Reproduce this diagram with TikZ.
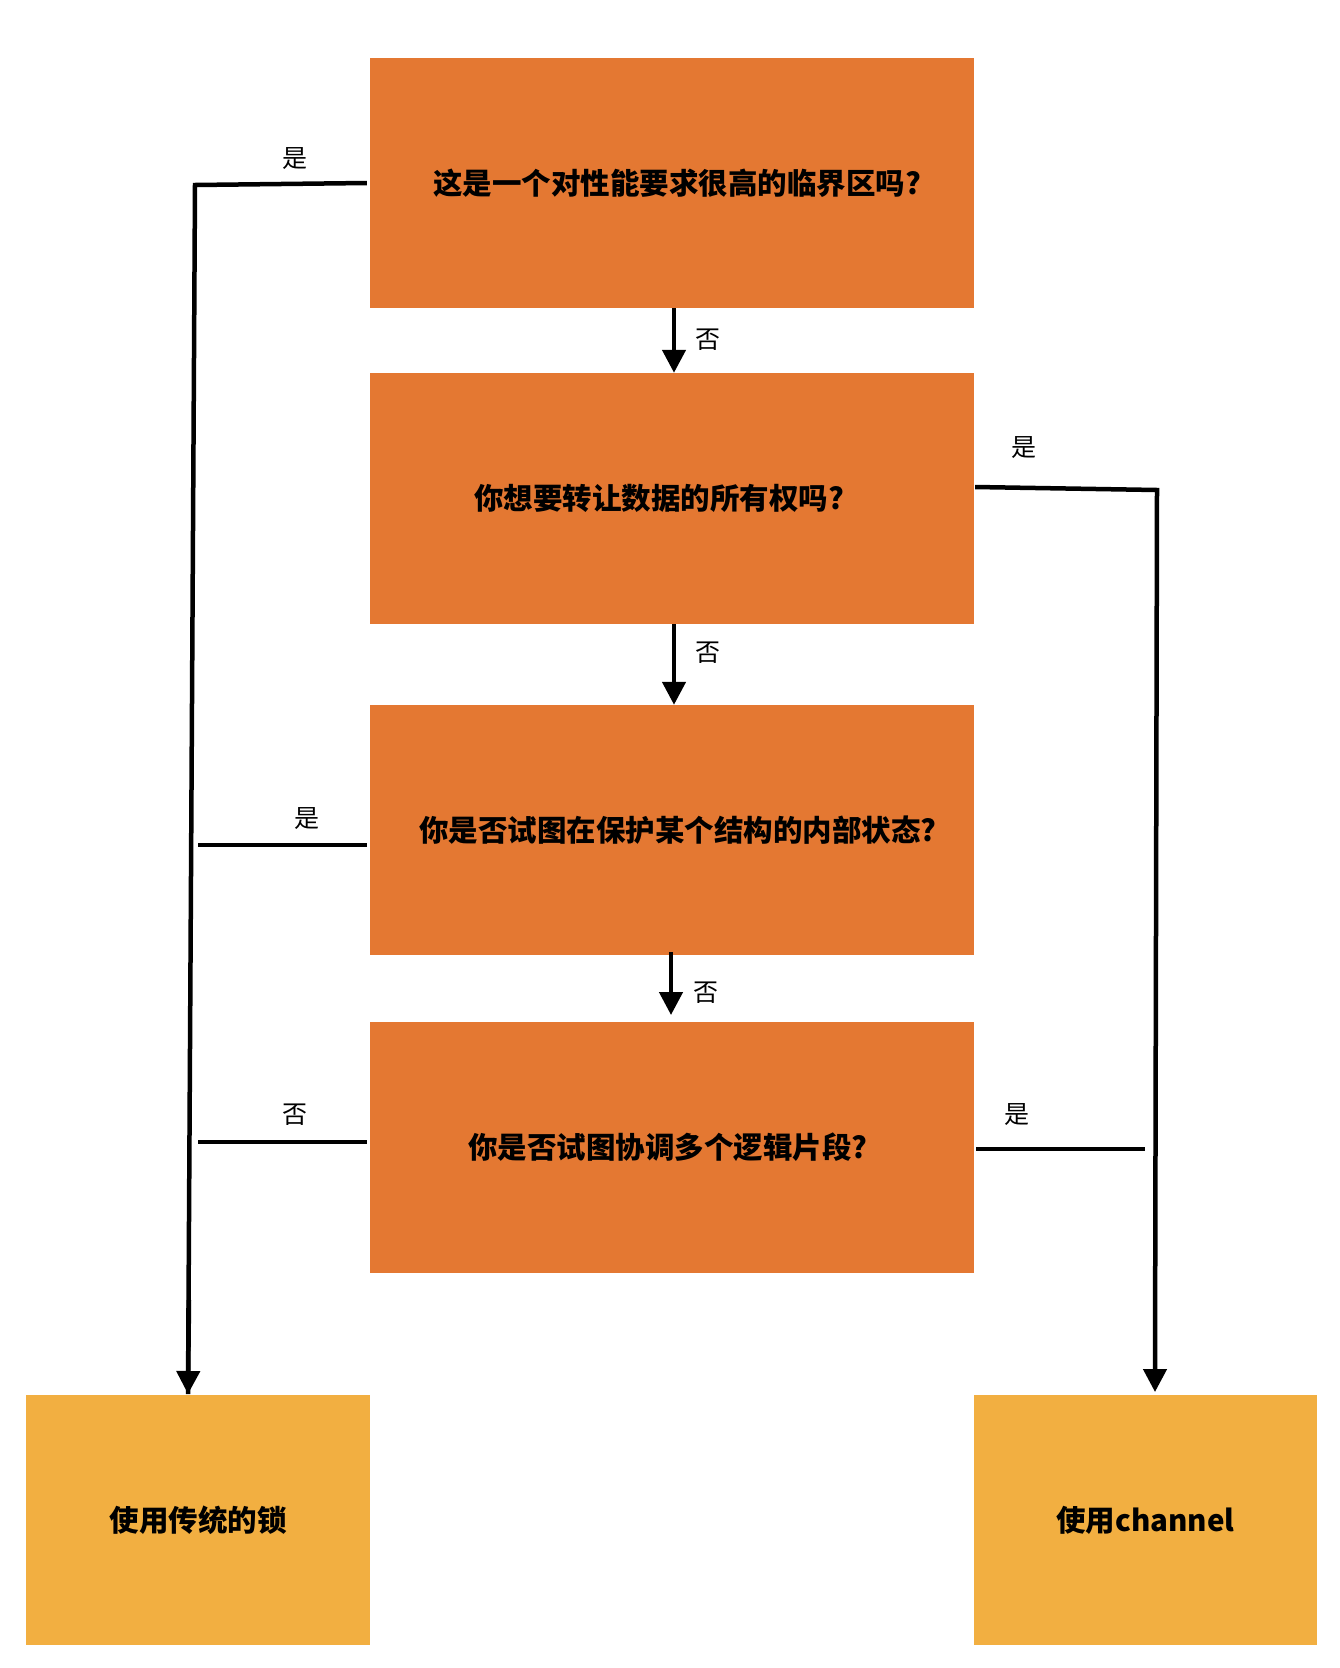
\documentclass[tikz,border=0pt]{standalone}
\usepackage{fontspec}
\setmainfont{Noto Sans CJK SC}
\usetikzlibrary{arrows.meta}
\definecolor{qorange}{HTML}{E47832}
\definecolor{ayellow}{HTML}{F2AF41}
\tikzset{
  qbox/.style={fill=qorange, draw=none, minimum width=604pt, minimum height=250pt, inner sep=0pt, font=\fontsize{29.5}{34}\selectfont\bfseries},
  abox/.style={fill=ayellow, draw=none, minimum width=344pt, minimum height=250pt, inner sep=0pt, font=\fontsize{29.5}{34}\selectfont\bfseries},
  conn/.style={line width=4.5pt, black},
  arr/.style={conn, -{Triangle[width=23pt,length=23pt]}},
  lbl/.style={font=\fontsize{25}{30}\selectfont, inner sep=0pt}
}
\begin{document}
\begin{tikzpicture}[x=1pt,y=-1pt]
\useasboundingbox (0,0) rectangle (1340,1668);
\fill[white] (0,0) rectangle (1340,1668);
\node[qbox] (q1) at (672,183) {\hspace*{10pt}这是一个对性能要求很高的临界区吗?};
\node[qbox, minimum height=251pt] (q2) at (672,498.5) {\hspace*{-26pt}你想要转让数据的所有权吗?};
\node[qbox] (q3) at (672,830) {\hspace*{12pt}你是否试图在保护某个结构的内部状态?};
\node[qbox, minimum height=251pt] (q4) at (672,1147.5) {\hspace*{-8pt}你是否试图协调多个逻辑片段?};
\node[abox] (lock) at (198,1520) {使用传统的锁};
\node[abox, minimum width=343pt] (chan) at (1145.5,1520) {使用channel};
% corner coordinates
\coordinate (lt) at (195,185);
\coordinate (lb) at (188,1394);
\coordinate (rt) at (1157,490);
\coordinate (rb) at (1155,1392);
\coordinate (s3) at (198,845);
\coordinate (s4) at (198,1142);
\coordinate (s4r) at (1145,1149);
% down arrows
\draw[arr] (674,308) -- (q2.north -| 674,0);
\draw[arr] (674,624) -- (q3.north -| 674,0);
\draw[arr] (671,952) -- (671,1015);
% left trunk
\draw[conn] (q1.west |- 0,183) ++(-3,0) -- (lt) -- (lb);
\draw[arr] (189,1300) -- (lb);
% right trunk
\draw[conn] (q2.east |- 0,487) ++(1,0) -- (rt) -- (1155,1370);
\draw[arr] (1155,1300) -- (rb);
% stubs
\draw[conn] (q3.west |- 0,845) ++(-3,0) -- (s3);
\draw[conn] (q4.west |- 0,1142) ++(-3,0) -- (s4);
\draw[conn] (q4.east |- 0,1149) ++(2,0) -- (s4r);
% labels
\node[lbl] (l1) at (295,159) {是};
\node[lbl] (l2) at (708,340) {否};
\node[lbl] (l3) at (1024,448) {是};
\node[lbl] (l4) at (708,653) {否};
\node[lbl] (l5) at (307,819) {是};
\node[lbl] (l6) at (706,993) {否};
\node[lbl] (l7) at (295,1115) {否};
\node[lbl] (l8) at (1017,1115) {是};
\end{tikzpicture}
\end{document}
